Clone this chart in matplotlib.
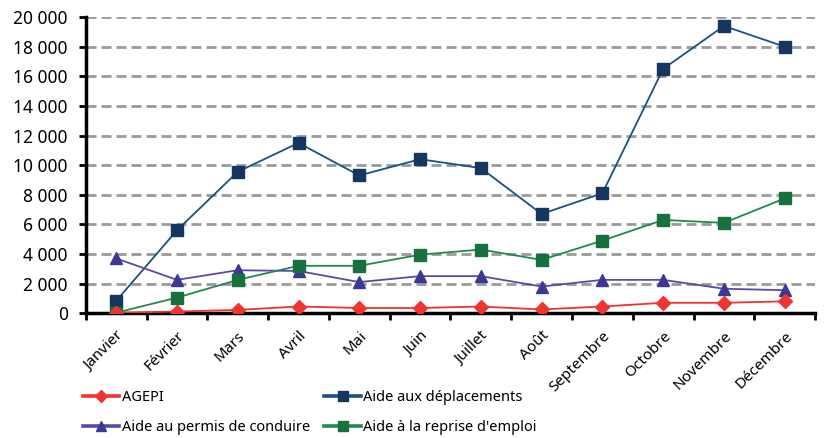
import matplotlib
matplotlib.use("Agg")
import matplotlib.pyplot as plt
from matplotlib.ticker import FuncFormatter, MultipleLocator, FixedLocator
from matplotlib.lines import Line2D
import numpy as np

months = ["Janvier", "Février", "Mars", "Avril", "Mai", "Juin", "Juillet",
          "Août", "Septembre", "Octobre", "Novembre", "Décembre"]
agepi = [30, 110, 220, 450, 350, 350, 450, 250, 450, 700, 700, 800]
deplacements = [830, 5600, 9550, 11500, 9300, 10400, 9800, 6700, 8100, 16500, 19400, 18000]
permis = [3700, 2250, 2900, 2850, 2100, 2500, 2500, 1800, 2250, 2250, 1650, 1550]
reprise = [30, 1050, 2250, 3200, 3200, 3950, 4300, 3600, 4900, 6300, 6100, 7750]

plt.rcParams['font.family'] = ['Noto Sans', 'DejaVu Sans']

fig = plt.figure(figsize=(8.25, 4.38), dpi=100)
ax = fig.add_axes([0.104, 0.285, 0.884, 0.676])

styles = [
    ("AGEPI", agepi, dict(color='#f0332e', marker='D', ms=7, mfc='#ee3530', mec='#ee3530'), 5),
    ("Aide aux déplacements", deplacements, dict(color='#1b5083', marker='s', ms=8.5, mfc='#15375f', mec='#15375f'), 4),
    ("Aide au permis de conduire", permis, dict(color='#5a4aa8', marker='^', ms=8.5, mfc='#3d3894', mec='#3d3894'), 4),
    ("Aide à la reprise d'emploi", reprise, dict(color='#1f8a4c', marker='s', ms=8.5, mfc='#18703d', mec='#18703d'), 4),
]

x = np.arange(len(months))
handles = {}
for name, vals, st, z in styles:
    ax.plot(x, vals, lw=1.3, zorder=z, **st)
    hst = dict(st)
    hst['ms'] = st['ms'] * 0.85
    handles[name] = Line2D([], [], lw=2.6, **hst)

ax.set_xlim(-0.5, len(months) - 0.5)
ax.set_ylim(0, 20000)
ax.yaxis.set_major_locator(MultipleLocator(2000))
ax.yaxis.set_major_formatter(FuncFormatter(lambda v, p: f"{int(v):,}".replace(",", " ")))
ax.grid(axis='y', color='#9a9a9a', lw=2.0, ls=(0, (3.6, 1.8)))
ax.set_axisbelow(True)

ax.set_xticks(x)
ax.set_xticklabels(months, rotation=45, ha='right', rotation_mode='anchor', fontsize=11)
ax.tick_params(axis='x', which='major', length=0, pad=11)
ax.xaxis.set_minor_locator(FixedLocator(np.arange(-0.5, len(months), 1.0)))
ax.tick_params(axis='x', which='minor', length=5, width=2, direction='out', color='black')
ax.tick_params(axis='y', length=5, width=2, direction='out', labelsize=12.5, pad=8)

for s in ['top', 'right']:
    ax.spines[s].set_visible(False)
for s in ['left', 'bottom']:
    ax.spines[s].set_linewidth(2.5)
    ax.spines[s].set_color('black')

order = ["AGEPI", "Aide au permis de conduire", "Aide aux déplacements", "Aide à la reprise d'emploi"]
fig.legend(handles=[handles[n] for n in order], labels=order, ncol=2, loc='upper left',
           bbox_to_anchor=(0.1006, 0.109), frameon=False, fontsize=10.5,
           handlelength=2.5, handletextpad=0.15, columnspacing=1.0,
           labelspacing=1.0, borderaxespad=0, borderpad=0)

fig.savefig('out.png', dpi=100)
